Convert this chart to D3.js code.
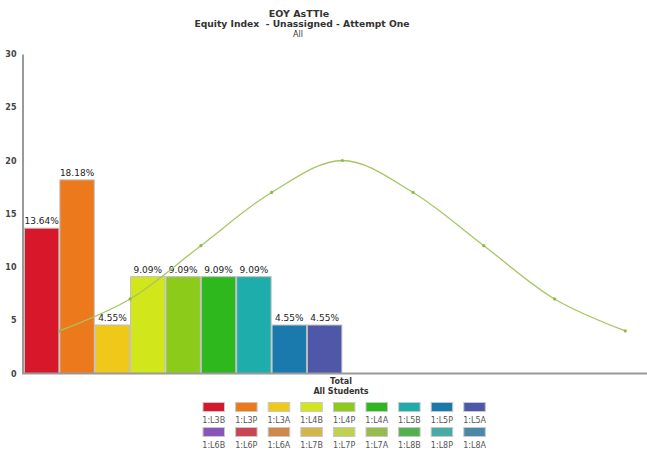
<!DOCTYPE html>
<html><head><meta charset="utf-8">
<script src="https://cdn.jsdelivr.net/npm/d3@7"></script>
<style>
body{margin:0;background:#fff;}
svg{display:block;font-family:"DejaVu Sans",Verdana,sans-serif;}
</style></head>
<body><svg id="c" width="647" height="450"></svg>
<script>
const titleLines = ["EOY AsTTle", "Equity Index  - Unassigned - Attempt One", "All"];
const levels = ["1:L3B","1:L3P","1:L3A","1:L4B","1:L4P","1:L4A","1:L5B","1:L5P","1:L5A",
                "1:L6B","1:L6P","1:L6A","1:L7B","1:L7P","1:L7A","1:L8B","1:L8P","1:L8A"];
const colors = ["#d7182a","#ec7a1c","#f0c81a","#d2e61c","#8ccb1a","#2eb81d","#1eadaa","#1a7aad","#4e57a8",
                "#8a54b8","#c84553","#d0874a","#d4b44c","#c0d052","#98bb4d","#55b04f","#49aaa8","#4a87a8"];
const barValues = [13.64, 18.18, 4.55, 9.09, 9.09, 9.09, 9.09, 4.55, 4.55];
const barLabels = ["13.64%","18.18%","4.55%","9.09%","9.09%","9.09%","9.09%","4.55%","4.55%"];
const curveX = [1, 3, 5, 7, 9, 11, 13, 15, 17];
const curveY = [4, 7, 12, 17, 20, 17, 12, 7, 4];
const yTicks = [0, 5, 10, 15, 20, 25, 30];
const categoryLabel = ["Total", "All Students"];

const svg = d3.select("#c");
const x = d3.scaleLinear().domain([0, 17.5]).range([24, 643]);
const y = d3.scaleLinear().domain([0, 30]).range([373.5, 54]);

// titles
svg.append("text").attr("x",299).attr("y",16.5).attr("text-anchor","middle")
  .attr("font-size","9.5px").attr("font-weight","bold").attr("fill","#333").text(titleLines[0]);
svg.append("text").attr("x",302).attr("y",27).attr("text-anchor","middle").attr("xml:space","preserve")
  .attr("font-size","9.2px").attr("font-weight","bold").attr("fill","#333").text(titleLines[1]);
svg.append("text").attr("x",298).attr("y",37).attr("text-anchor","middle")
  .attr("font-size","8px").attr("fill","#333").text(titleLines[2]);

// bars
svg.selectAll("rect.bar").data(barValues).join("rect").attr("class","bar")
  .attr("x",(d,i)=>x(i)+0.5).attr("width",(d,i)=>x(i+1)-x(i)-1)
  .attr("y",d=>y(d)).attr("height",d=>y(0)-y(d))
  .attr("fill",(d,i)=>colors[i]).attr("stroke","#bdbdbd").attr("stroke-width",1);

svg.selectAll("text.bl").data(barValues).join("text").attr("class","bl")
  .attr("x",(d,i)=>(x(i)+x(i+1))/2).attr("y",d=>y(d)-4).attr("text-anchor","middle")
  .attr("font-size","9px").attr("fill","#222").text((d,i)=>barLabels[i]);

// axes
const yAxis = d3.axisLeft(y).tickValues(yTicks).tickSize(0).tickPadding(6);
const gy = svg.append("g").attr("transform","translate(22.5,0)").call(yAxis);
gy.select(".domain").attr("stroke","#999").attr("stroke-width",2);
gy.selectAll("text").attr("font-size","8px").attr("font-weight","bold").attr("fill","#444")
  .attr("font-family","DejaVu Sans, Verdana, sans-serif");

svg.append("line").attr("x1",22).attr("x2",647).attr("y1",y(0)).attr("y2",y(0))
  .attr("stroke","#999").attr("stroke-width",2);

// category label
categoryLabel.forEach((t,i)=>{
  svg.append("text").attr("x",341).attr("y",384+i*9.5).attr("text-anchor","middle")
    .attr("font-size","8px").attr("font-weight","bold").attr("fill","#333").text(t);
});

// curve
const pts = curveX.map((cx,i)=>[x(cx), y(curveY[i])]);
svg.append("path").attr("d", d3.line().curve(d3.curveCatmullRom.alpha(0.5))(pts))
  .attr("fill","none").attr("stroke","#a5c665").attr("stroke-width",1.3);
svg.selectAll("circle.pt").data(pts).join("circle").attr("class","pt")
  .attr("cx",d=>d[0]).attr("cy",d=>d[1]).attr("r",1.6).attr("fill","#8db84a");

// legend
const lg = svg.append("g");
levels.forEach((name,i)=>{
  const col = i % 9, row = Math.floor(i/9);
  const lx = 203 + col*32.6, ly = 402.5 + row*25;
  lg.append("rect").attr("x",lx).attr("y",ly).attr("width",21.5).attr("height",9)
    .attr("fill",colors[i]).attr("stroke","#c8c8c8").attr("stroke-width",1);
  lg.append("text").attr("x",lx+10.75).attr("y",ly+20).attr("text-anchor","middle")
    .attr("font-size","8px").attr("fill","#555").text(name);
});
</script></body></html>
